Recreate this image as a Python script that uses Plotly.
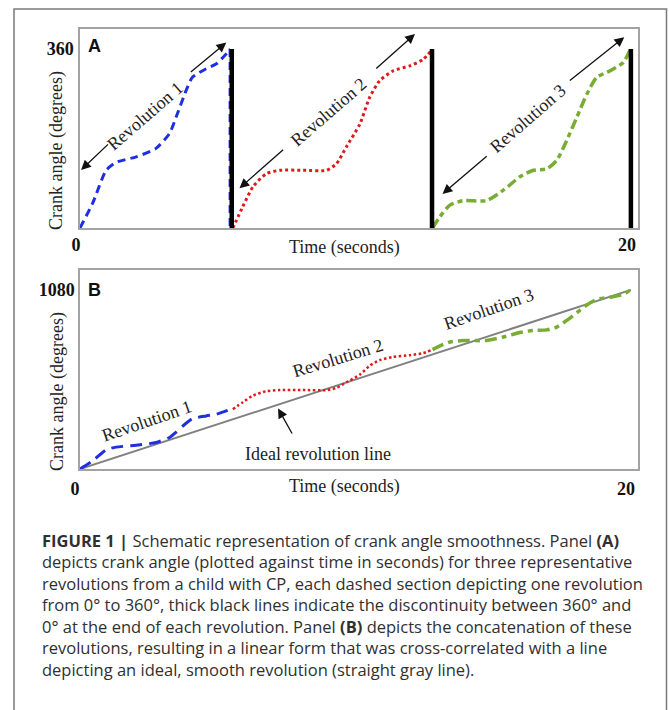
import plotly.graph_objects as go

W, H = 669, 710

# ---------------- data ----------------
# Panel A: crank angle (deg) vs time (s) for three revolutions
rev1_t = [0.0, 0.46, 0.95, 1.31, 2.04, 2.76, 3.25, 3.49, 3.85, 4.08, 4.58, 4.95, 5.31, 5.45]
rev1_deg = [0, 50, 116, 132, 143, 160, 190, 223, 276, 303, 320, 330, 350, 360]

rev2_t = [5.55, 5.91, 6.28, 6.76, 7.25, 8.09, 8.95, 9.31, 9.67, 10.16, 10.52, 10.88, 11.37, 11.97, 12.46, 12.73]
rev2_deg = [0, 43, 83, 109, 116, 116, 116, 129, 163, 209, 263, 296, 316, 326, 339, 355]

rev3_t = [12.8, 13.07, 13.43, 13.91, 14.76, 15.37, 15.97, 16.46, 16.95, 17.31, 17.67, 18.04, 18.4, 18.76, 19.25, 19.73, 19.97]
rev3_deg = [0, 23, 46, 55, 55, 76, 103, 116, 119, 136, 176, 223, 269, 303, 316, 333, 358]

rev_end_t = [5.51, 12.78, 20.0]      # 360 -> 0 discontinuities (thick black lines)
rev_offsets = [0, 360, 720]          # concatenation offsets for panel B
ideal_t = [0, 20]
ideal_deg = [0, 1080]

x_ticks = [0, 20]
x_tick_labels = ["0", "20"]
yA_ticks = [360]
yA_tick_labels = ["360"]
yB_ticks = [1080]
yB_tick_labels = ["1080"]

# ---------------- styling ----------------
SERIF = "Liberation Serif, Times New Roman, serif"
SANS = "Liberation Sans, Arial, sans-serif"
CAP_FONT = "Open Sans, Noto Sans, sans-serif"
BLUE = "#1f2fe0"
RED = "#e01818"
GREEN = "#78ad32"
BOX = "#a3a3a3"


def px(x):
    return x / W


def py(y):
    return 1 - y / H


fig = go.Figure()

# Panel A curves
fig.add_trace(go.Scatter(x=rev1_t, y=rev1_deg, mode="lines", xaxis="x", yaxis="y",
                         line=dict(color=BLUE, width=3, dash="8px,5px", shape="spline", smoothing=0.6)))
fig.add_trace(go.Scatter(x=[rev1_t[-1], rev1_t[-1]], y=[rev1_deg[-1], 0], mode="lines", xaxis="x", yaxis="y",
                         line=dict(color=BLUE, width=3, dash="8px,5px")))
fig.add_trace(go.Scatter(x=rev2_t, y=rev2_deg, mode="lines", xaxis="x", yaxis="y",
                         line=dict(color=RED, width=3, dash="3px,3px", shape="spline", smoothing=0.6)))
fig.add_trace(go.Scatter(x=rev3_t, y=rev3_deg, mode="lines", xaxis="x", yaxis="y",
                         line=dict(color=GREEN, width=3.5, dash="10px,4px,5px,4px", shape="spline", smoothing=0.6)))
for t in rev_end_t:
    fig.add_trace(go.Scatter(x=[t, t], y=[0, 360], mode="lines", xaxis="x", yaxis="y",
                             line=dict(color="black", width=4.5)))

# Panel B
fig.add_trace(go.Scatter(x=ideal_t, y=ideal_deg, mode="lines", xaxis="x2", yaxis="y2",
                         line=dict(color="#808080", width=2)))
fig.add_trace(go.Scatter(x=rev1_t, y=[d + rev_offsets[0] for d in rev1_deg], mode="lines", xaxis="x2", yaxis="y2",
                         line=dict(color=BLUE, width=3, dash="12px,7px", shape="spline", smoothing=0.6)))
fig.add_trace(go.Scatter(x=rev2_t, y=[d + rev_offsets[1] for d in rev2_deg], mode="lines", xaxis="x2", yaxis="y2",
                         line=dict(color=RED, width=2.5, dash="2.5px,2.5px", shape="spline", smoothing=0.6)))
fig.add_trace(go.Scatter(x=rev3_t, y=[d + rev_offsets[2] for d in rev3_deg], mode="lines", xaxis="x2", yaxis="y2",
                         line=dict(color=GREEN, width=3.5, dash="12px,5px,5px,5px", shape="spline", smoothing=0.6)))

axis_common = dict(showgrid=False, zeroline=False, showline=True, mirror=True,
                   linecolor=BOX, linewidth=1.5, ticks="", fixedrange=True)
xdom = [px(80), px(637.5)]
tick_font = dict(family=SERIF, size=18, color="#111", weight="bold")

fig.update_layout(
    width=W, height=H,
    margin=dict(l=0, r=0, t=0, b=0, autoexpand=False),
    paper_bgcolor="white", plot_bgcolor="white",
    showlegend=False,
    xaxis=dict(domain=xdom, range=[0, 20.24], anchor="y", tickvals=x_ticks, ticktext=x_tick_labels,
               tickfont=tick_font, ticklabelshift=-4, ticklabelstandoff=0, **axis_common),
    yaxis=dict(domain=[py(228), py(29)], range=[0, 400], anchor="x", tickvals=yA_ticks, ticktext=yA_tick_labels,
               tickfont=tick_font, ticklabelstandoff=1, **axis_common),
    xaxis2=dict(domain=xdom, range=[0, 20.24], anchor="y2", tickvals=x_ticks, ticktext=x_tick_labels,
                tickfont=tick_font, ticklabelshift=-5, ticklabelstandoff=3, **axis_common),
    yaxis2=dict(domain=[py(469), py(270)], range=[0, 1200], anchor="x2", tickvals=yB_ticks, ticktext=yB_tick_labels,
                tickfont=tick_font, ticklabelstandoff=0, **axis_common),
)

# outer frame
fig.add_shape(type="rect", xref="paper", yref="paper", x0=px(14), x1=px(666.5), y0=py(730), y1=py(9),
              line=dict(color="#7a7a7a", width=1.5), fillcolor="rgba(0,0,0,0)", layer="below")

ann = []
C = dict(xanchor="center", yanchor="middle", xref="paper", yref="paper", showarrow=False)
# panel letters
ann.append(dict(text="<b>A</b>", x=px(94.5), y=py(46), font=dict(family=SANS, size=18, color="#111"), **C))
ann.append(dict(text="<b>B</b>", x=px(94.5), y=py(290), font=dict(family=SANS, size=18, color="#111"), **C))
# axis titles
for yc in (151, 392):
    ann.append(dict(text="Crank angle (degrees)", x=px(57), y=py(yc), textangle=-90,
                    font=dict(family=SERIF, size=18, color="#222"), **C))
for yc in (248, 486.5):
    ann.append(dict(text="Time (seconds)", x=px(344), y=py(yc),
                    font=dict(family=SERIF, size=18, color="#222"), **C))

# panel A double arrows: (lower head, lower tail, text centre, upper tail, upper head)
arrowsA = [
    ((0.04, 116.6), (1.07, 171), (2.36, 226), (3.97, 311), (5.31, 372.7), "Revolution 1"),
    ((5.79, 79.8), (7.43, 160), (9.03, 233), (10.7, 318), (12.16, 390), "Revolution 2"),
    ((13.16, 68.4), (14.82, 146.8), (16.28, 220.6), (17.73, 294), (19.76, 383.6), "Revolution 3"),
]
for lh, lt, tc, ut, uh, label in arrowsA:
    for head, tail in ((lh, lt), (uh, ut)):
        ann.append(dict(text="", x=head[0], y=head[1], ax=tail[0], ay=tail[1], xref="x", yref="y",
                        axref="x", ayref="y", showarrow=True, arrowhead=2, arrowsize=1.5,
                        arrowwidth=1.3, arrowcolor="#111", standoff=0, startstandoff=0))
    ann.append(dict(text=label, x=tc[0], y=tc[1], xref="x", yref="y", showarrow=False, textangle=-41,
                    xanchor="center", yanchor="middle",
                    font=dict(family=SERIF, size=18, color="#222")))

# panel B labels
for label, t, d, ang in (("Revolution 1", 2.42, 290, -19), ("Revolution 2", 9.37, 672, -17),
                         ("Revolution 3", 14.85, 965, -19)):
    ann.append(dict(text=label, x=t, y=d, xref="x2", yref="y2", showarrow=False, textangle=ang,
                    xanchor="center", yanchor="middle",
                    font=dict(family=SERIF, size=18, color="#222")))
ann.append(dict(text="Ideal revolution line", x=px(318.3), y=py(454.3),
                font=dict(family=SERIF, size=18, color="#222"), **C))
ann.append(dict(text="", x=7.19, y=365, ax=7.73, ay=205, xref="x2", yref="y2", axref="x2", ayref="y2",
                showarrow=True, arrowhead=2, arrowsize=1.5, arrowwidth=1.3, arrowcolor="#111",
                standoff=0, startstandoff=0))

# caption (one block, 7 lines)
caption_lines = [
    "<b>FIGURE 1 |</b> Schematic representation of crank angle smoothness. Panel <b>(A)</b>",
    "depicts crank angle (plotted against time in seconds) for three representative",
    "revolutions from a child with CP, each dashed section depicting one revolution",
    "from 0° to 360°, thick black lines indicate the discontinuity between 360° and",
    "0° at the end of each revolution. Panel <b>(B)</b> depicts the concatenation of these",
    "revolutions, resulting in a linear form that was cross-correlated with a line",
    "depicting an ideal, smooth revolution (straight gray line).",
]
ann.append(dict(text="<br>".join(caption_lines), x=px(40), y=py(605), xref="paper", yref="paper",
                xanchor="left", yanchor="middle", showarrow=False, align="left",
                font=dict(family=CAP_FONT, size=16.5, color="#303030")))

fig.update_layout(annotations=ann)
fig.write_html("out.html", config={"displayModeBar": False},
               post_script="document.body.style.margin='0';")
